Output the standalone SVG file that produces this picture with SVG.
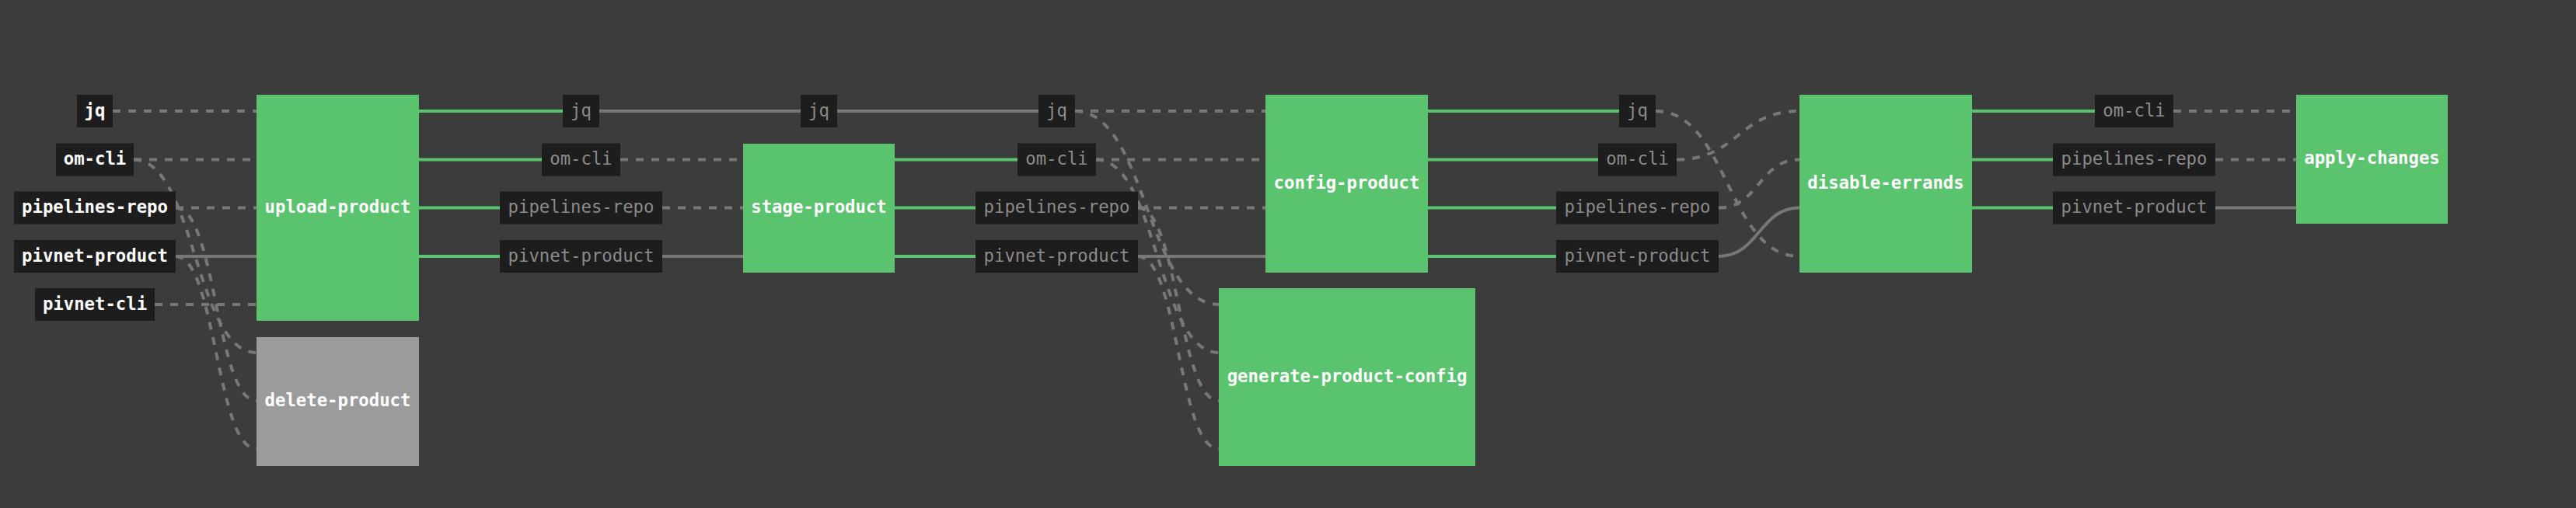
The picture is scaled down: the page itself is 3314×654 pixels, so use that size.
<svg xmlns="http://www.w3.org/2000/svg" width="3314" height="654" viewBox="0 0 3314 654">
<style>
.bg{fill:#3d3c3c}
.lbl{fill:#1e1d1d}
.job{fill:#5ac36e}
.jobgray{fill:#9b9b9b}
text{font-family:"DejaVu Sans Mono","Liberation Mono",monospace;font-size:22.3px;text-anchor:middle}
.tin{fill:#ffffff;font-weight:bold}
.tout{fill:#8b8a8a}
.tjob{fill:#ffffff;font-weight:bold}
.e{fill:none;stroke-width:4}
.g{stroke:#5ac36e}
.s{stroke:#797676}
.d{stroke:#797676;stroke-dasharray:10 10}
</style>
<rect class="bg" x="0" y="0" width="3314" height="654"/>
<g id="connectors">
<path class="e d" d="M145,143 H330"/>
<path class="e d" d="M172,205.5 H330"/>
<path class="e d" d="M226,267.5 H330"/>
<path class="e s" d="M226,330 H330"/>
<path class="e d" d="M199,392 H330"/>
<path class="e d" d="M172,205.5 C251,205.5 251,454 330,454"/>
<path class="e d" d="M226,267.5 C278,267.5 278,516 330,516"/>
<path class="e d" d="M226,330 C278,330 278,578 330,578"/>
<path class="e g" d="M539,143 H724"/>
<path class="e g" d="M539,205.5 H697"/>
<path class="e g" d="M539,267.5 H643"/>
<path class="e g" d="M539,330 H643"/>
<path class="e s" d="M771,143 H1030"/>
<path class="e s" d="M1077,143 H1336"/>
<path class="e d" d="M798,205.5 H956"/>
<path class="e d" d="M852,267.5 H956"/>
<path class="e s" d="M852,330 H956"/>
<path class="e g" d="M1151,205.5 H1309"/>
<path class="e g" d="M1151,267.5 H1255"/>
<path class="e g" d="M1151,330 H1255"/>
<path class="e d" d="M1383,143 H1628"/>
<path class="e d" d="M1410,205.5 H1628"/>
<path class="e d" d="M1464,267.5 H1628"/>
<path class="e s" d="M1464,330 H1628"/>
<path class="e d" d="M1383,143 C1475.5,143 1475.5,392 1568,392"/>
<path class="e d" d="M1410,205.5 C1489,205.5 1489,454 1568,454"/>
<path class="e d" d="M1464,267.5 C1516,267.5 1516,516 1568,516"/>
<path class="e d" d="M1464,330 C1516,330 1516,578 1568,578"/>
<path class="e g" d="M1837,143 H2083"/>
<path class="e g" d="M1837,205.5 H2056"/>
<path class="e g" d="M1837,267.5 H2002"/>
<path class="e g" d="M1837,330 H2002"/>
<path class="e d" d="M2130,143 C2222.5,143 2222.5,330 2315,330"/>
<path class="e d" d="M2157,205.5 C2236,205.5 2236,143 2315,143"/>
<path class="e d" d="M2211,267.5 C2263,267.5 2263,205.5 2315,205.5"/>
<path class="e s" d="M2211,330 C2263,330 2263,267.5 2315,267.5"/>
<path class="e g" d="M2537,143 H2695"/>
<path class="e g" d="M2537,205.5 H2641"/>
<path class="e g" d="M2537,267.5 H2641"/>
<path class="e d" d="M2796,143 H2954"/>
<path class="e d" d="M2850,205.5 H2954"/>
<path class="e s" d="M2850,267.5 H2954"/>
</g>
<g id="in-jq"><rect class="lbl" x="99" y="122" width="46" height="42"/><text class="tin" x="122" y="149.5">jq</text></g>
<g id="in-om-cli"><rect class="lbl" x="72" y="184.5" width="100" height="42"/><text class="tin" x="122" y="212">om-cli</text></g>
<g id="in-pipelines-repo"><rect class="lbl" x="18" y="246.5" width="208" height="42"/><text class="tin" x="122" y="274">pipelines-repo</text></g>
<g id="in-pivnet-product"><rect class="lbl" x="18" y="309" width="208" height="42"/><text class="tin" x="122" y="336.5">pivnet-product</text></g>
<g id="in-pivnet-cli"><rect class="lbl" x="45" y="371" width="154" height="42"/><text class="tin" x="122" y="398.5">pivnet-cli</text></g>
<g id="job-upload-product"><rect class="job" x="330" y="122" width="209" height="291"/><text class="tjob" x="434.5" y="274">upload-product</text></g>
<g id="job-delete-product"><rect class="jobgray" x="330" y="434" width="209" height="166"/><text class="tjob" x="434.5" y="523">delete-product</text></g>
<g id="job-stage-product"><rect class="job" x="956" y="185" width="195" height="166"/><text class="tjob" x="1053.5" y="274">stage-product</text></g>
<g id="job-config-product"><rect class="job" x="1628" y="122" width="209" height="229"/><text class="tjob" x="1732.5" y="242.5">config-product</text></g>
<g id="job-generate-product-config"><rect class="job" x="1568" y="371" width="330" height="229"/><text class="tjob" x="1733" y="491.5">generate-product-config</text></g>
<g id="job-disable-errands"><rect class="job" x="2315" y="122" width="222" height="229"/><text class="tjob" x="2426" y="242.5">disable-errands</text></g>
<g id="job-apply-changes"><rect class="job" x="2954" y="122" width="195" height="166"/><text class="tjob" x="3051.5" y="211">apply-changes</text></g>
<g id="out-a-jq"><rect class="lbl" x="724" y="122" width="47" height="42"/><text class="tout" x="747.5" y="149.5">jq</text></g>
<g id="out-a-om-cli"><rect class="lbl" x="697" y="184.5" width="101" height="42"/><text class="tout" x="747.5" y="212">om-cli</text></g>
<g id="out-a-pipelines-repo"><rect class="lbl" x="643" y="246.5" width="209" height="42"/><text class="tout" x="747.5" y="274">pipelines-repo</text></g>
<g id="out-a-pivnet-product"><rect class="lbl" x="643" y="309" width="209" height="42"/><text class="tout" x="747.5" y="336.5">pivnet-product</text></g>
<g id="out-b-jq"><rect class="lbl" x="1030" y="122" width="47" height="42"/><text class="tout" x="1053.5" y="149.5">jq</text></g>
<g id="out-c-jq"><rect class="lbl" x="1336" y="122" width="47" height="42"/><text class="tout" x="1359.5" y="149.5">jq</text></g>
<g id="out-c-om-cli"><rect class="lbl" x="1309" y="184.5" width="101" height="42"/><text class="tout" x="1359.5" y="212">om-cli</text></g>
<g id="out-c-pipelines-repo"><rect class="lbl" x="1255" y="246.5" width="209" height="42"/><text class="tout" x="1359.5" y="274">pipelines-repo</text></g>
<g id="out-c-pivnet-product"><rect class="lbl" x="1255" y="309" width="209" height="42"/><text class="tout" x="1359.5" y="336.5">pivnet-product</text></g>
<g id="out-d-jq"><rect class="lbl" x="2083" y="122" width="47" height="42"/><text class="tout" x="2106.5" y="149.5">jq</text></g>
<g id="out-d-om-cli"><rect class="lbl" x="2056" y="184.5" width="101" height="42"/><text class="tout" x="2106.5" y="212">om-cli</text></g>
<g id="out-d-pipelines-repo"><rect class="lbl" x="2002" y="246.5" width="209" height="42"/><text class="tout" x="2106.5" y="274">pipelines-repo</text></g>
<g id="out-d-pivnet-product"><rect class="lbl" x="2002" y="309" width="209" height="42"/><text class="tout" x="2106.5" y="336.5">pivnet-product</text></g>
<g id="out-e-om-cli"><rect class="lbl" x="2695" y="122" width="101" height="42"/><text class="tout" x="2745.5" y="149.5">om-cli</text></g>
<g id="out-e-pipelines-repo"><rect class="lbl" x="2641" y="184.5" width="209" height="42"/><text class="tout" x="2745.5" y="212">pipelines-repo</text></g>
<g id="out-e-pivnet-product"><rect class="lbl" x="2641" y="246.5" width="209" height="42"/><text class="tout" x="2745.5" y="274">pivnet-product</text></g>
</svg>
